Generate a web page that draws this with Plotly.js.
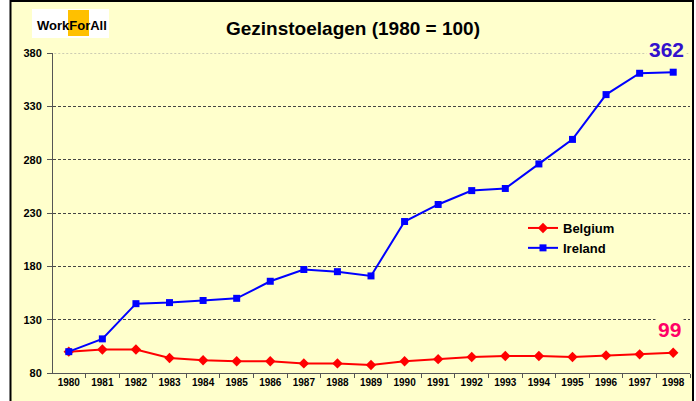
<!DOCTYPE html>
<html>
<head>
<meta charset="utf-8">
<script src="https://cdn.plot.ly/plotly-3.0.1.min.js"></script>
<style>
html,body{margin:0;padding:0;background:#ffffff;}
#chart{width:696px;height:401px;}
</style>
</head>
<body>
<div id="chart"></div>
<script>
const years = ['1980','1981','1982','1983','1984','1985','1986','1987','1988','1989','1990','1991','1992','1993','1994','1995','1996','1997','1998'];
const belgium = [100,102,102,94,92,91,91,89,89,87.5,91,93,95,96,96,95,96.5,97.5,99];
const ireland = [100,112,145,146,148,150,166,177,175,171,222,238,251,253,276,299,341,361,362];
const yTicks = [80,130,180,230,280,330,380];
const endLabels = {belgium:'99', ireland:'362'};

const W = 696, H = 401;
const L = 53, R = 6, T = 53, B = 28;
const pw = W - L - R, ph = H - T - B;
const px = p => (p - L) / pw;
const py = p => (H - B - p) / ph;

const font = 'Liberation Sans, Arial, sans-serif';

const traces = [
  {
    x: years, y: belgium, name: 'Belgium', type: 'scatter', mode: 'lines+markers',
    line: {color: '#ff0000', width: 2},
    marker: {symbol: 'diamond', size: 8, color: '#ff0000'}
  },
  {
    x: years, y: ireland, name: 'Ireland', type: 'scatter', mode: 'lines+markers',
    line: {color: '#0000ff', width: 2},
    marker: {symbol: 'square', size: 7, color: '#0000ff'}
  }
];

const lastIdx = years.length - 1;

const layout = {
  width: W, height: H,
  margin: {l: L, r: R, t: T, b: B, pad: 0},
  paper_bgcolor: '#ffffff',
  plot_bgcolor: 'rgba(0,0,0,0)',
  font: {family: font, color: '#000000'},
  title: {
    text: 'Gezinstoelagen (1980 = 100)',
    font: {family: font, size: 19, weight: 'bold', color: '#000000'},
    x: 353 / W, xref: 'container', xanchor: 'center',
    y: 1 - 28 / H, yref: 'container', yanchor: 'middle'
  },
  xaxis: {
    type: 'category',
    tickson: 'boundaries',
    ticks: 'outside', ticklen: 4, tickcolor: '#555555',
    showline: true, linecolor: '#555555', linewidth: 1,
    showgrid: false, zeroline: false,
    tickfont: {family: font, size: 10, weight: 'bold', color: '#000000'},
    range: [-0.47, 18.5]
  },
  yaxis: {
    range: [80, 380],
    tickvals: yTicks, ticktext: yTicks.map(String),
    ticks: 'outside', ticklen: 5, tickcolor: '#555555',
    ticklabelstandoff: 3,
    showline: true, linecolor: '#555555', linewidth: 1,
    showgrid: true, gridcolor: '#444444', gridwidth: 1, griddash: '3px,2px',
    zeroline: false,
    tickfont: {family: font, size: 11, weight: 'bold', color: '#000000'}
  },
  showlegend: true,
  legend: {
    x: px(523), y: py(213), xanchor: 'left', yanchor: 'top',
    bgcolor: 'rgba(0,0,0,0)', borderwidth: 0,
    font: {family: font, size: 13, weight: 'bold', color: '#000000'},
    itemwidth: 30, tracegroupgap: 0
  },
  shapes: [
    {type: 'rect', xref: 'paper', yref: 'paper', layer: 'below',
     x0: px(10.5), x1: px(693), y0: py(420), y1: py(1),
     fillcolor: '#ffffcc', line: {color: '#000000', width: 2}},
    {type: 'rect', xref: 'paper', yref: 'paper', layer: 'below',
     x0: px(32), x1: px(109), y0: py(38), y1: py(9),
     fillcolor: '#ffffff', line: {width: 0}},
    {type: 'rect', xref: 'paper', yref: 'paper', layer: 'below',
     x0: px(68), x1: px(89), y0: py(36), y1: py(10),
     fillcolor: '#ffc000', line: {width: 0}},
    {type: 'line', xref: 'paper', yref: 'y', layer: 'above',
     x0: 0.002, x1: 1, y0: 380, y1: 380,
     line: {color: '#ffffcc', width: 2}},
    {type: 'line', xref: 'paper', yref: 'y', layer: 'above',
     x0: 0.002, x1: 1, y0: 380, y1: 380,
     line: {color: '#999999', width: 1, dash: '2px,2px'}}
  ],
  annotations: [
    {text: 'WorkForAll', xref: 'paper', yref: 'paper', x: px(72), y: py(26),
     xanchor: 'center', yanchor: 'middle', showarrow: false,
     font: {family: font, size: 13, weight: 'bold', color: '#000000'}},
    {text: endLabels.ireland, xref: 'paper', yref: 'paper', x: px(666), y: py(49),
     xanchor: 'center', yanchor: 'middle', showarrow: false,
     bgcolor: '#ffffcc', borderpad: 2,
     font: {family: font, size: 21, weight: 'bold', color: '#3311cc'}},
    {text: endLabels.belgium, xref: 'paper', yref: 'paper', x: px(669), y: py(329),
     xanchor: 'center', yanchor: 'middle', showarrow: false,
     bgcolor: '#ffffcc', borderpad: 2,
     font: {family: font, size: 21, weight: 'bold', color: '#ff0066'}}
  ]
};

Plotly.newPlot('chart', traces, layout, {displayModeBar: false, staticPlot: true});
</script>
</body>
</html>
